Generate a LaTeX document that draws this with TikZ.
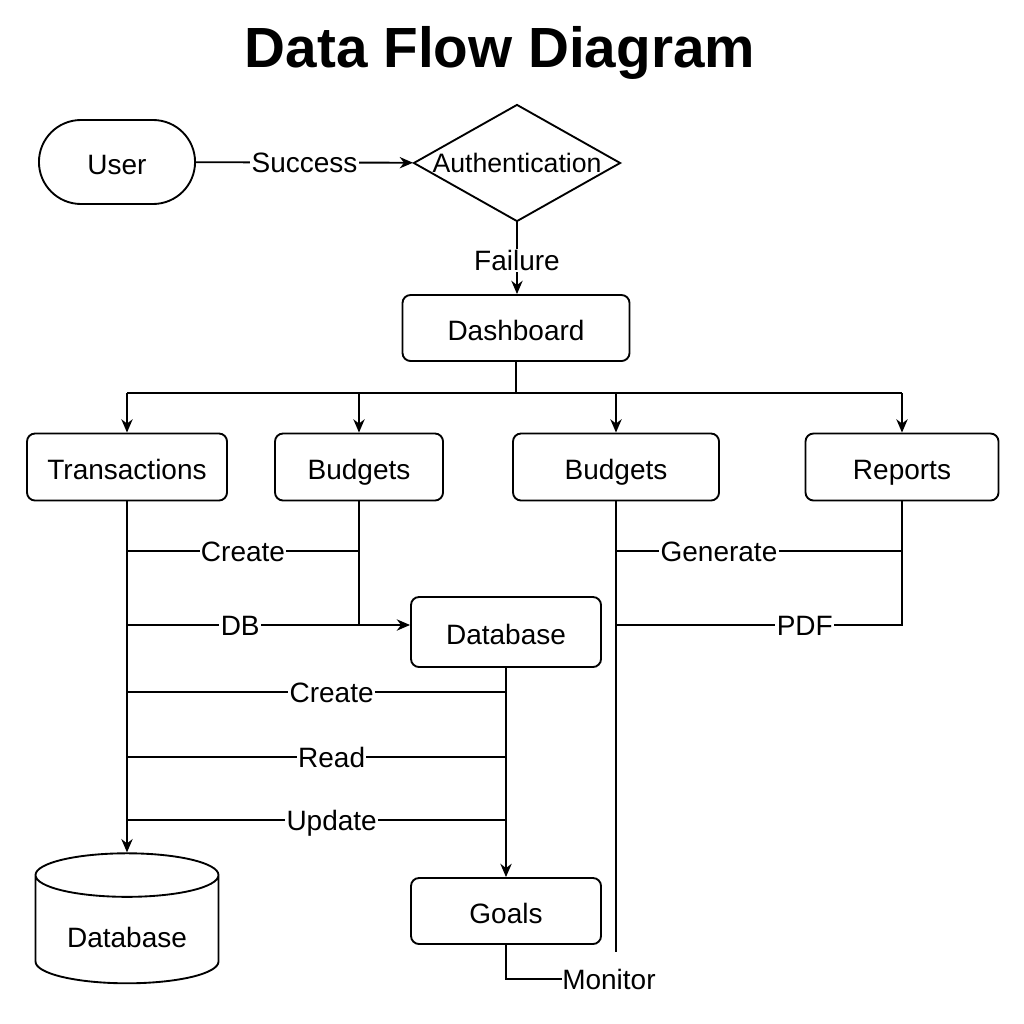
\documentclass[tikz,border=0pt]{standalone}
\usepackage{fontspec}
\setmainfont{Liberation Sans}
\usetikzlibrary{arrows.meta,shapes.geometric,shapes.misc}

\tikzset{
  txt/.style={font=\fontsize{21}{25}\selectfont, text height=20pt, text depth=2pt},
  proc/.style={draw, line width=1.4pt, rounded corners=6pt, txt},
  term/.style={draw, line width=1.4pt, rounded rectangle, txt},
  decide/.style={draw, line width=1.4pt, diamond, aspect=1.77, inner sep=0pt, font=\fontsize{20}{24}\selectfont},
  store/.style={draw, line width=1.4pt, cylinder, shape border rotate=90, aspect=4.9},
  lbl/.style={fill=white, inner sep=1pt, font=\fontsize{21}{25}\selectfont, text height=15pt, text depth=0pt},
  flow/.style={line width=1.4pt, -{Stealth[length=10pt,width=8.5pt]}},
  wire/.style={line width=1.4pt},
}

\begin{document}
\begin{tikzpicture}[x=0.75pt,y=0.75pt,yscale=-1,xscale=1]
\useasboundingbox (0,0) rectangle (1024,1024);

%Title
\node[font=\bfseries\fontsize{42.5}{50}\selectfont] (title) at (500,53) {Data Flow Diagram};

%Shape: User / Authentication / Dashboard
\node[term, minimum width=123.75pt, minimum height=63pt] (user) at (117,162) {User};
\node[decide, minimum width=155.25pt, minimum height=87.75pt] (auth) at (517,163) {Authentication};
\node[proc, minimum width=170.25pt, minimum height=49.5pt] (dash) at (516,328) {Dashboard};

%Shape: second row
\node[proc, minimum width=150pt, minimum height=50.25pt] (trans) at (127,467) {Transactions};
\node[proc, minimum width=126pt, minimum height=50.25pt] (bud) at (359,467) {Budgets};
\node[proc, minimum width=154.5pt, minimum height=50.25pt] (budg) at (616,467) {Budgets};
\node[proc, minimum width=144.75pt, minimum height=50.25pt] (rep) at (902,467) {Reports};

%Shape: database, goals, store
\node[proc, minimum width=142.5pt, minimum height=52.5pt] (db) at (506,632) {Database};
\node[proc, minimum width=142.5pt, minimum height=49.5pt] (goals) at (506,911) {Goals};
\node[store, minimum width=137.25pt, minimum height=97.5pt, label={[yshift=-1.5pt, txt]center:Database}] (store) at (127,933) {};
\node[lbl, anchor=west, inner sep=0pt] (mon) at (562,979) {Monitor};

%Levels
\coordinate (split) at (0,393);
\coordinate (yA) at (0,551);
\coordinate (yB) at (0,625);
\coordinate (yC) at (0,692);
\coordinate (yD) at (0,757);
\coordinate (yE) at (0,820);
\coordinate (budgEnd) at (616,952);

%Straight Lines: top
\draw[flow] (user) -- node[lbl]{Success} (auth);
\draw[flow] (auth) -- node[lbl, pos=0.53]{Failure} (auth.south |- dash.north);
\draw[wire] (dash.south) -- (dash.south |- split);
\draw[wire] (trans.north |- split) -- (rep.north |- split);
\foreach \n in {trans,bud,budg,rep}
  \draw[flow] (\n.north |- split) -- (\n.north);

%Straight Lines: left block
\draw[flow] (trans) -- (store);
\draw[wire] (trans.south |- yA) -- node[lbl]{Create} (bud.south |- yA);
\draw[wire] (bud.south) -- (bud.south |- yB);
\draw[flow] (trans.south |- yB) -- node[lbl, pos=0.4]{DB} (db.west |- yB);
\draw[flow] (db) -- (goals);
\draw[wire] (trans.south |- yC) -- node[lbl, pos=0.54]{Create} (db.south |- yC);
\draw[wire] (trans.south |- yD) -- node[lbl, pos=0.54]{Read} (db.south |- yD);
\draw[wire] (trans.south |- yE) -- node[lbl, pos=0.54]{Update} (db.south |- yE);
\draw[wire] (goals.south) |- (mon.west);

%Straight Lines: right block
\draw[wire] (budg.south) -- (budgEnd);
\draw[wire] (budg.south |- yA) -- node[lbl, pos=0.36]{Generate} (rep.south |- yA);
\draw[wire] (rep.south) -- (rep.south |- yB) -- node[lbl, pos=0.34]{PDF} (budg.south |- yB);

\end{tikzpicture}
\end{document}
